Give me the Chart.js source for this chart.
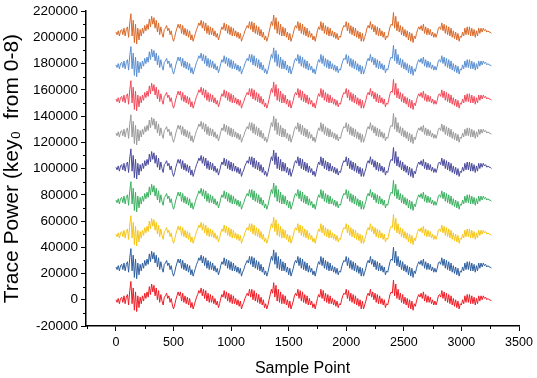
<!DOCTYPE html>
<html>
<head>
<meta charset="utf-8">
<script src="https://cdn.jsdelivr.net/npm/chart.js@4.4.1/dist/chart.umd.min.js"></script>
<style>
  html, body { margin: 0; padding: 0; background: #fff; }
  #wrap { width: 537px; height: 378px; }
</style>
</head>
<body>
<div id="wrap"><canvas id="traceChart" width="537" height="378"></canvas></div>
<script>
// trace shape, in thousands, one value every 10 samples (0..3260)
const traceShapeK = [
  0, -2, 1, -3, 1, 2, -2, 3, -3, 2,
  4, -4, 7, 14, -3, 9, -8, 6, -9, 3,
  -6, 2, -3, 3, -1, 5, 1, 6, 2, 10,
  4, 12, 6, 11, 3, 9, 0, 7, -2, 4,
  -1, -4, 2, 3, 5, 1, 3, -2, 1, -4,
  -7, -4, 0, 3, 6, 3, 6, -1, 5, -2,
  3, -3, 2, -4, 1, -6, -2, -7, -4, -1,
  2, 4, 7, 5, 9, 3, 8, 1, 7, -1,
  5, -2, 4, -2, 3, -3, 1, -4, -1, -6,
  -3, 1, 4, 2, 7, 1, 6, -1, 5, -2,
  4, -3, 3, -3, 1, -4, 0, -5, -1, -7,
  -4, -2, 1, 3, 5, 3, 8, 2, 8, 0,
  7, -1, 5, -2, 4, -3, 2, -4, 0, -6,
  -3, -7, -4, 0, 4, 8, 5, 13, 2, 11,
  -1, 8, -2, 6, -3, 4, -3, 3, -4, 0,
  -6, -1, -7, -4, -1, 3, 5, 3, 8, 1,
  7, -1, 6, -2, 4, -3, 3, -4, 1, -4,
  -1, -6, -3, -7, -3, 1, 4, 2, 8, 1,
  7, -1, 5, -2, 4, -3, 3, -3, 1, -4,
  0, -5, -1, -6, -3, -4, 0, 3, 5, 4,
  8, 1, 7, -1, 5, -2, 4, -3, 3, -4,
  1, -5, 0, -7, -1, -7, -4, -1, 3, 5,
  3, 8, 2, 6, 0, 5, -2, 4, -3, 3,
  -3, 1, -4, 0, -6, -3, -4, 0, 4, 6,
  5, 15, 3, 12, 1, 8, 0, 5, -2, 4,
  -3, 2, -4, 1, -6, 0, -7, -1, -8, -3,
  -5, -1, 2, 4, 2, 5, 1, 6, -1, 4,
  -2, 3, -2, 2, -3, 0, -4, -1, -4, -1,
  3, 4, 2, 7, 1, 6, -1, 5, -2, 4,
  -3, 3, -4, 1, -5, 0, -6, -1, -7, -3,
  -4, 0, -3, 3, -2, 4, -2, 4, -3, 3,
  -3, 2, -4, 1, -3, 3, -1, 3, 0, 3,
  1, 2, 0, 1, 0, 0, -1
];
const sampleStep = 10;

// vertical offset of each key trace (key 0 at the bottom)
const keyNames = ['key 0', 'key 1', 'key 2', 'key 3', 'key 4', 'key 5', 'key 6', 'key 7', 'key 8'];
const keyOffsets = [0, 25000, 50000, 76000, 101000, 127000, 153000, 179000, 204000];
const keyColors = ['#ee1c25', '#2f5f9f', '#f5c518', '#3cb060', '#4a4a9c', '#9a9a9a', '#f04a5a', '#5b8fd0', '#d9692a'];

// axes
const xTicks = [0, 500, 1000, 1500, 2000, 2500, 3000, 3500];
const xMinorTicks = [-250, 250, 750, 1250, 1750, 2250, 2750, 3250];
const yTicks = [-20000, 0, 20000, 40000, 60000, 80000, 100000, 120000, 140000, 160000, 180000, 200000, 220000];
const yMinorTicks = [-10000, 10000, 30000, 50000, 70000, 90000, 110000, 130000, 150000, 170000, 190000, 210000];

const datasets = keyNames.map((name, k) => ({
    label: name,
    data: traceShapeK.map((v, i) => ({ x: i * sampleStep, y: keyOffsets[k] + v * 1000 })),
    borderColor: keyColors[k],
    borderWidth: 1,
    pointRadius: 0,
    tension: 0,
    fill: false
}));

// small outward ticks between the labelled ones
const minorTicksPlugin = {
    id: 'minorTicks',
    afterDraw(chart) {
        const ctx = chart.ctx;
        const xs = chart.scales.x;
        const ys = chart.scales.y;
        const area = chart.chartArea;
        ctx.save();
        ctx.strokeStyle = '#000';
        ctx.lineWidth = 1;
        ctx.beginPath();
        yMinorTicks.forEach(v => {
            const py = Math.round(ys.getPixelForValue(v)) + 0.5;
            ctx.moveTo(area.left - 3, py);
            ctx.lineTo(area.left, py);
        });
        xMinorTicks.forEach(v => {
            const px = Math.round(xs.getPixelForValue(v)) + 0.5;
            ctx.moveTo(px, area.bottom);
            ctx.lineTo(px, area.bottom + 3);
        });
        ctx.stroke();
        ctx.restore();
    }
};

new Chart(document.getElementById('traceChart'), {
    type: 'line',
    data: { datasets: datasets },
    plugins: [minorTicksPlugin],
    options: {
        responsive: false,
        animation: false,
        normalized: true,
        layout: { padding: { top: 0, right: 18, bottom: 0, left: 0 } },
        plugins: {
            legend: { display: false },
            tooltip: { enabled: false }
        },
        scales: {
            x: {
                type: 'linear',
                min: -260,
                max: 3500,
                afterBuildTicks: scale => { scale.ticks = xTicks.map(v => ({ value: v })); },
                afterFit: scale => { scale.height = 52; },
                grid: { drawOnChartArea: false, tickLength: 5, color: '#000' },
                border: { display: true, color: '#000', width: 1.5 },
                ticks: {
                    color: '#000',
                    padding: 4,
                    maxRotation: 0,
                    font: { family: 'Liberation Sans, Arial', size: 12.5 },
                    callback: v => String(v)
                },
                title: {
                    display: true,
                    text: 'Sample Point',
                    color: '#000',
                    padding: { top: 2, bottom: 0 },
                    font: { family: 'Liberation Sans, Arial', size: 16 }
                }
            },
            y: {
                type: 'linear',
                min: -20000,
                max: 220000,
                afterBuildTicks: scale => { scale.ticks = yTicks.map(v => ({ value: v })); },
                afterFit: scale => { scale.width = 86; },
                grid: { drawOnChartArea: false, tickLength: 5, color: '#000' },
                border: { display: true, color: '#000', width: 1.5 },
                ticks: {
                    color: '#000',
                    padding: 3,
                    font: { family: 'Liberation Sans, Arial', size: 13.5 },
                    callback: v => String(v)
                },
                title: {
                    display: true,
                    text: 'Trace Power (key\u2080  from 0-8)',
                    color: '#000',
                    padding: { top: 0, bottom: 0 },
                    font: { family: 'Liberation Sans, Arial', size: 21 }
                }
            }
        }
    }
});
</script>
</body>
</html>
